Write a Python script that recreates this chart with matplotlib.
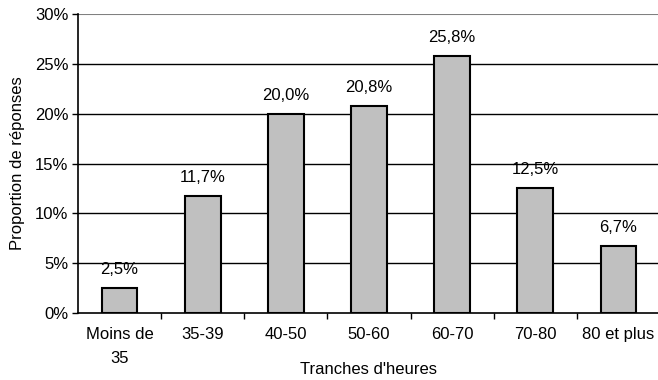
import matplotlib
matplotlib.use("Agg")
import matplotlib.pyplot as plt
import numpy as np

categories = ["Moins de\n35", "35-39", "40-50", "50-60", "60-70", "70-80", "80 et plus"]
values = [2.5, 11.7, 20.0, 20.8, 25.8, 12.5, 6.7]
value_labels = ["2,5%", "11,7%", "20,0%", "20,8%", "25,8%", "12,5%", "6,7%"]
yticks = [0, 5, 10, 15, 20, 25, 30]
ytick_labels = ["0%", "5%", "10%", "15%", "20%", "25%", "30%"]

plt.rcParams['font.family'] = ['Liberation Sans', 'DejaVu Sans']
FS = 12

fig = plt.figure(figsize=(6.58, 3.80), dpi=100)
ax = fig.add_axes([78/658, 1-313/380, 582/658, (313-14)/380])

x = np.arange(len(categories))
ax.bar(x, values, width=0.43, color="#C0C0C0", edgecolor="black", linewidth=1.5, zorder=3)
for xi, v, lab in zip(x, values, value_labels):
    ax.annotate(lab, (xi, v), xytext=(0, 8), textcoords="offset points",
                ha="center", va="bottom", fontsize=FS)

ax.set_xlim(-0.5, len(categories)-0.5)
ax.set_ylim(0, 30)
ax.set_yticks(yticks)
ax.set_yticklabels(ytick_labels, fontsize=FS)
for yv in yticks[1:-1]:
    ax.axhline(yv, color="black", linewidth=1.0, zorder=1)
ax.axhline(30, color="#808080", linewidth=1.5, zorder=1)

ax.set_xticks(x)
ax.set_xticklabels(categories, fontsize=FS, linespacing=1.8)
ax.tick_params(axis="x", length=0, pad=10)
ax.set_xticks(np.arange(0.5, len(categories)-0.5, 1), minor=True)
ax.tick_params(axis="x", which="minor", length=4, width=1, direction="out")
ax.tick_params(axis="y", length=4, width=1, direction="out", pad=3)

for s in ["top", "right"]:
    ax.spines[s].set_visible(False)
ax.spines["left"].set_linewidth(1.2)
ax.spines["bottom"].set_linewidth(1.2)

ax.set_ylabel("Proportion de réponses", fontsize=FS, labelpad=7)
ax.set_xlabel("Tranches d'heures", fontsize=FS, labelpad=-3)

fig.savefig("out.png", dpi=100)
